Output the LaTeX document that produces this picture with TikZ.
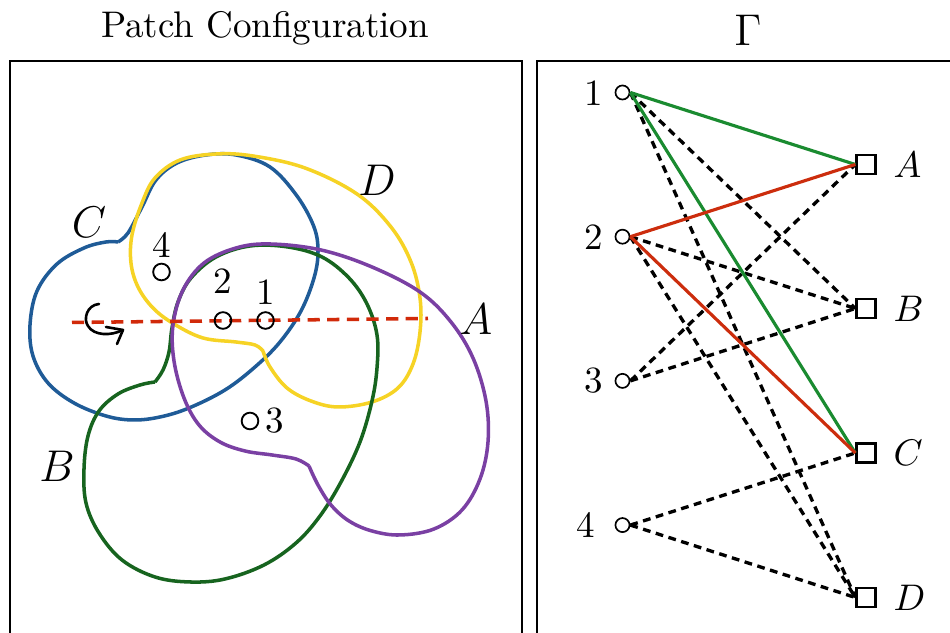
\documentclass[tikz,border=0pt]{standalone}
\usetikzlibrary{calc}
\definecolor{cblue}{HTML}{1F5B97}
\definecolor{cyellow}{HTML}{F6D325}
\definecolor{cpurple}{HTML}{7A40A3}
\definecolor{cgreen}{HTML}{17641F}
\definecolor{cred}{HTML}{D12A0A}
\definecolor{egreen}{HTML}{1A8B30}
\definecolor{ered}{HTML}{CC2D0D}
\begin{document}
\begin{tikzpicture}[x=0.27pt,y=-0.27pt,
  panel/.style={draw=black,line width=0.6pt},
  patch/.style={line width=0.95pt,line join=round},
  axisline/.style={draw=cred,line width=0.95pt,dash pattern=on 3.3pt off 2pt},
  pt/.style={circle,draw=black,line width=0.5pt,minimum size=4.5pt,inner sep=0pt},
  ptlab/.style={inner sep=0pt,font=\fontsize{10}{12}\selectfont},
  patchlab/.style={inner sep=0pt,font=\fontsize{12}{14}\selectfont},
  vtx/.style={circle,draw=black,line width=0.45pt,minimum size=3.8pt,inner sep=0pt},
  fac/.style={rectangle,draw=black,line width=0.65pt,minimum size=5.1pt,inner sep=0pt},
  vlab/.style={inner sep=0pt,anchor=east,font=\fontsize{10}{12}\selectfont},
  flab/.style={inner sep=0pt,anchor=west,font=\fontsize{10}{12}\selectfont},
  dedge/.style={draw=black,line width=0.9pt,dash pattern=on 2.1pt off 1.5pt},
  gedge/.style={draw=egreen,line width=0.85pt},
  redge/.style={draw=ered,line width=0.85pt}]
\useasboundingbox (0,0) rectangle (950,633);

% titles
\node[anchor=base,inner sep=0pt,font=\fontsize{10}{12}\selectfont] (title) at (265,38) {Patch Configuration};
\node[anchor=base,inner sep=0pt,font=\fontsize{12}{14}\selectfont] (gam) at (748,46) {$\Gamma$};

% panels
\draw[panel] (10,61) rectangle (522,700);
\draw[panel] (537,61) rectangle (990,700);

% ---------- left panel: patches ----------
\draw[patch,cblue] plot[smooth,tension=0.6] coordinates {
 (118,242) (128,233) (142,207) (156,180) (177,163) (206,155) (236,155)
 (270,167) (297,196) (314,227) (318,252) (314,278) (301,311) (280,342)
 (255,367) (225,390) (189,408) (160,417) (133,420) (106,416)
 (74,403) (48,383) (33,356) (30,325) (37,291) (57,264) (84,248) (106,242) (118,242)};

\draw[patch,cyellow] plot[smooth,tension=0.6] coordinates {
 (263,351) (270,367) (287,388) (311,401) (338,407) (372,402) (398,388)
 (413,364) (420,332) (420,298) (411,262) (391,227) (357,194) (305,168)
 (253,156) (216,154) (180,160) (155,178) (142,203) (132,235) (131,263)
 (138,287) (153,308) (174,324) (203,338) (236,342) (255,345) (263,351)};

\draw[patch,cgreen] plot[smooth,tension=0.6] coordinates {
 (155,382) (163,370) (169,352) (172,328) (178,302) (191,278) (216,257)
 (250,246) (288,247) (322,257) (349,278) (367,304) (377,335) (377,368)
 (372,401) (360,442) (341,482) (320,516) (296,543) (264,565) (225,579)
 (190,582) (155,577) (122,560) (99,533) (86,503) (84,469) (88,436)
 (99,411) (118,394) (140,385) (155,382)};

\draw[patch,cpurple] plot[smooth,tension=0.6] coordinates {
 (309,466) (318,485) (331,505) (349,521) (372,531) (400,535) (434,529)
 (462,510) (480,479) (488,442) (486,401) (473,358) (451,322) (420,292)
 (372,267) (321,250) (270,244) (236,248) (204,263) (183,290) (173,325)
 (174,361) (184,398) (199,425) (220,442) (245,451) (272,455) (296,459) (309,466)};

% axis
\coordinate (axL) at (72,322.5);
\coordinate (axR) at (428,318.5);
\draw[axisline] (axL) -- (axR);

% rotation symbol
\draw[line width=0.7pt,line cap=round,line join=round]
  (99,304) .. controls (87,305) and (83,319) .. (88,326)
  .. controls (94,336) and (111,336) .. (123,330);
\draw[line width=0.7pt,line cap=round,line join=round]
  (106,327) -- (123,330) -- (117,344);

% points
\node[pt] (p4) at (161.5,272) {};
\node[pt] (p2) at (223,320.5) {};
\node[pt] (p1) at (265.5,320.5) {};
\node[pt] (p3) at (250,421) {};
\node[ptlab] (p4l) at (161.5,245) {4};
\node[ptlab] (p2l) at (223,281) {2};
\node[ptlab] (p1l) at (266,292) {1};
\node[ptlab] (p3l) at (275,421) {3};

% patch labels
\node[patchlab] (lC) at (89,222) {$C$};
\node[patchlab] (lD) at (377,180) {$D$};
\node[patchlab] (lA) at (476,319) {$A$};
\node[patchlab] (lB) at (57,466) {$B$};

% ---------- right panel: graph ----------
\node[vtx] (v1) at (622.5,92.5) {};
\node[vtx] (v2) at (622.5,236.7) {};
\node[vtx] (v3) at (622.5,380.9) {};
\node[vtx] (v4) at (622.5,525.1) {};
\node[vlab] (v1l) at (604,93) {1};
\node[vlab] (v2l) at (604,237) {2};
\node[vlab] (v3l) at (604,381) {3};
\node[vlab] (v4l) at (596,525) {4};

\node[fac] (fA) at (866,164.5) {};
\node[fac] (fB) at (866,308.5) {};
\node[fac] (fC) at (866,453) {};
\node[fac] (fD) at (866,597.5) {};
\node[flab] (fAl) at (893,165) {$A$};
\node[flab] (fBl) at (893,309) {$B$};
\node[flab] (fCl) at (893,453) {$C$};
\node[flab] (fDl) at (893,598) {$D$};

\draw[dedge] (v1.east) -- (fB.west);
\draw[dedge] (v1.east) -- (fD.west);
\draw[dedge] (v2.east) -- (fB.west);
\draw[dedge] (v2.east) -- (fD.west);
\draw[dedge] (v3.east) -- (fA.west);
\draw[dedge] (v3.east) -- (fB.west);
\draw[dedge] (v4.east) -- (fC.west);
\draw[dedge] (v4.east) -- (fD.west);
\draw[gedge] (v1.east) -- (fA.west);
\draw[gedge] (v1.east) -- (fC.west);
\draw[redge] (v2.east) -- (fA.west);
\draw[redge] (v2.east) -- (fC.west);
\end{tikzpicture}
\end{document}
